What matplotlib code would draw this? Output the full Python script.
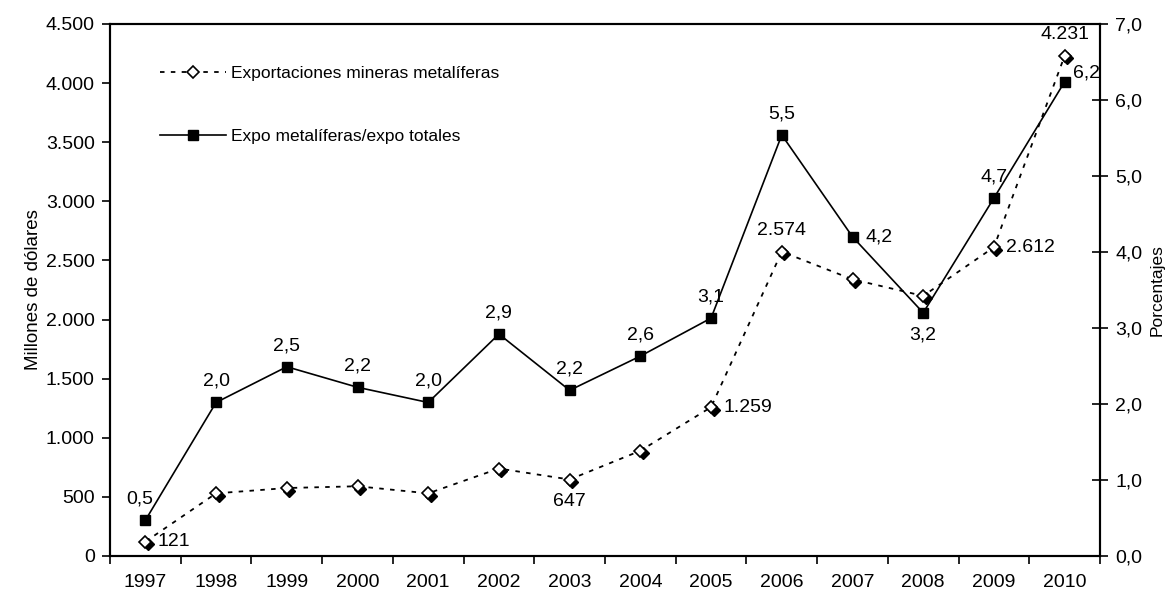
import matplotlib
matplotlib.use("Agg")
import matplotlib.pyplot as plt
import matplotlib.transforms as mtransforms
from matplotlib.ticker import FuncFormatter, MultipleLocator

plt.rcParams["font.family"] = ["Liberation Sans", "DejaVu Sans"]
plt.rcParams["font.size"] = 14

years = ["1997", "1998", "1999", "2000", "2001", "2002", "2003",
         "2004", "2005", "2006", "2007", "2008", "2009", "2010"]
expo_mineras = [121, 530, 575, 590, 530, 740, 647, 890, 1259, 2574, 2340, 2200, 2612, 4231]
ratio_expo = [0.47, 2.02, 2.49, 2.22, 2.02, 2.92, 2.18, 2.63, 3.13, 5.54, 4.20, 3.20, 4.71, 6.24]

# which points carry a label, and where it goes
mineras_labels = {0: "right", 6: "below", 8: "right", 9: "above", 12: "right", 13: "above"}
ratio_labels = {0: "above", 1: "above", 2: "above", 3: "above", 4: "above", 5: "above",
                6: "above", 7: "above", 8: "above", 9: "above", 10: "right", 11: "below",
                12: "above", 13: "right"}


def fmt_miles(v, pos=None):
    return f"{v:,.0f}".replace(",", ".")


def fmt_dec(v, pos=None):
    return f"{v:.1f}".replace(".", ",")


fig = plt.figure(figsize=(11.74, 5.96), dpi=100)
ax = fig.add_axes([110 / 1174, 40 / 596, 990 / 1174, 532 / 596])
ax2 = ax.twinx()

x = list(range(len(years)))

# shadow for the diamonds
shadow = mtransforms.offset_copy(ax.transData, fig=fig, x=2.5, y=-2.5, units="dots")
ax.plot(x, expo_mineras, linestyle="none", marker="D", ms=6.5, color="black",
        transform=shadow, zorder=2)
l1, = ax.plot(x, expo_mineras, linestyle=(0, (2.5, 3.5)), lw=1.3, color="black",
              marker="D", ms=6.5, mfc="white", mec="black", mew=1.2, zorder=3,
              label="Exportaciones mineras metalíferas")

l2, = ax2.plot(x, ratio_expo, linestyle="-", lw=1.2, color="black",
               marker="s", ms=7.5, mfc="black", mec="black",
               label="Expo metalíferas/expo totales")

offsets = {"above": (0, 9, "center", "bottom"), "below": (0, -10, "center", "top"),
           "right": (9, 0, "left", "center")}

for i, pos in mineras_labels.items():
    dx, dy, ha, va = offsets[pos]
    ax.annotate(fmt_miles(expo_mineras[i]), (x[i], expo_mineras[i]), xytext=(dx, dy),
                textcoords="offset points", ha=ha, va=va)

for i, pos in ratio_labels.items():
    dx, dy, ha, va = offsets[pos]
    if i == 0:
        dx = -4
    if i == 13:
        dx, dy = 6, 6
    ax2.annotate(fmt_dec(ratio_expo[i]), (x[i], ratio_expo[i]), xytext=(dx, dy),
                 textcoords="offset points", ha=ha, va=va)

ax.set_xlim(-0.5, len(years) - 0.5)
ax.set_ylim(0, 4500)
ax2.set_ylim(0, 7)
ax.yaxis.set_major_locator(MultipleLocator(500))
ax2.yaxis.set_major_locator(MultipleLocator(1))
ax.yaxis.set_major_formatter(FuncFormatter(fmt_miles))
ax2.yaxis.set_major_formatter(FuncFormatter(fmt_dec))

ax.set_xticks([i - 0.5 for i in range(len(years) + 1)])
ax.set_xticklabels([])
ax.set_xticks(x, minor=True)
ax.set_xticklabels(years, minor=True)
ax.tick_params(axis="x", which="major", direction="out", length=6, width=1.2)
ax.tick_params(axis="x", which="minor", length=0, pad=13)
ax.tick_params(axis="y", direction="out", length=6, width=1.2, pad=5)
ax2.tick_params(axis="y", direction="inout", length=12, width=1.2, pad=5)

for a in (ax, ax2):
    for s in a.spines.values():
        s.set_linewidth(1.5)

ax.set_ylabel("Millones de dólares", fontsize=13.5, labelpad=3)
ax2.set_ylabel("Porcentajes", fontsize=12.5, labelpad=5)

ax2.legend(handles=[l1, l2], loc="upper left", bbox_to_anchor=(0.035, 0.95),
           frameon=False, handlelength=3.8, labelspacing=2.75, handletextpad=0.3,
           fontsize=12.5)

fig.savefig("out.png", dpi=100)
